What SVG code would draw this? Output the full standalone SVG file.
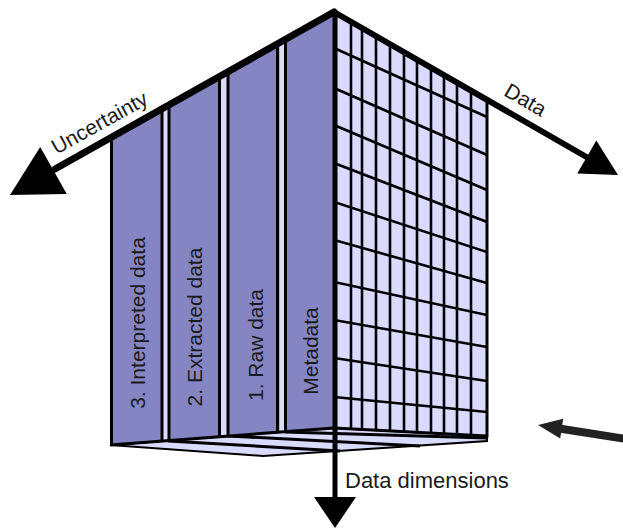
<svg xmlns="http://www.w3.org/2000/svg" width="623" height="529" viewBox="0 0 623 529">
<style>
.dark{fill:#8585c4;}
.light{fill:#dadaff;}
.edge{stroke:#000;fill:none;stroke-width:3;}
.grid{stroke:#000;fill:none;stroke-width:2.6;}
.axis{stroke:#000;fill:none;stroke-linecap:round;}
.lbl{font-family:"Liberation Sans",Arial,sans-serif;font-size:21px;fill:#1a1a1a;}
</style>
<defs>
<clipPath id="leftClip"><polygon points="110,136.5 334,12 334,428 110,445"/></clipPath>
<clipPath id="rightClip"><polygon points="334,12 487,97 487,436 334,428"/></clipPath>
</defs>

<g id="floor">
<polygon points="110,445 263,456 487,441 487,436 334,428" fill="#dadaff" stroke="#000" stroke-width="2"/>
<path d="M168,441 L340,451 M228,436 L420,446 M285,432 L487,438" class="edge" stroke-width="2.5"/>
</g>

<g id="left-face">
<polygon class="dark" points="110,136.5 334,12 334,428 110,445"/>
<g clip-path="url(#leftClip)">
<rect class="light" x="163" y="90" width="5.5" height="360"/>
<rect class="light" x="221" y="60" width="6" height="380"/>
<rect class="light" x="279.5" y="30" width="5" height="410"/>
<path class="edge" d="M111.5,130 V450 M162,100 V450 M169,100 V450 M219.5,70 V450 M228,60 V450 M277.5,40 V450 M285.5,30 V450"/>
</g>
<path class="edge" stroke-width="2.5" d="M110,445 L334,428"/>
</g>

<g id="slab-interpreted"><text class="lbl" x="145" y="323" text-anchor="middle" transform="rotate(-90 145 323)">3. Interpreted data</text></g>
<g id="slab-extracted"><text class="lbl" x="202" y="327" text-anchor="middle" transform="rotate(-90 202 327)">2. Extracted data</text></g>
<g id="slab-raw"><text class="lbl" x="263" y="345" text-anchor="middle" transform="rotate(-90 263 345)">1. Raw data</text></g>
<g id="slab-metadata"><text class="lbl" x="318" y="351" text-anchor="middle" transform="rotate(-90 318 351)">Metadata</text></g>

<g id="right-face">
<polygon class="light" points="334,12 487,97 487,436 334,428"/>
<g clip-path="url(#rightClip)">
<path class="grid" d="M334,48 L487,117 M334,88 L487,155 M334,125 L487,190 M334,163 L487,222 M334,202 L487,252 M334,240 L487,283 M334,282 L487,315 M334,320 L487,347 M334,358 L487,381 M334,397 L487,412"/>
<path class="grid" stroke-width="3" d="M351,0 V440 M362,0 V440 M376,0 V440 M390,0 V440 M404,0 V440 M417,0 V440 M431,0 V440 M444,0 V440 M457,0 V440 M471,0 V440"/>
</g>
<path class="edge" stroke-width="2.5" d="M487,97 V436 L334,428"/>
</g>

<g id="connectors">
<g id="axis-uncertainty">
<line class="axis" x1="334" y1="12" x2="55" y2="169" stroke-width="7"/>
<polygon points="10,195 66.8,193.9 40.2,146.9" fill="#000"/>
</g>
<g id="axis-data">
<line class="axis" x1="334" y1="12" x2="590" y2="159" stroke-width="6"/>
<polygon points="618,175 577.3,173.6 596.3,140.6" fill="#000"/>
</g>
<g id="axis-dimensions">
<line class="axis" x1="335" y1="12" x2="335" y2="500" stroke-width="5"/>
<polygon points="314,497 356,497 335,528" fill="#000"/>
</g>
<g id="pointer-arrow">
<line x1="626" y1="439" x2="556" y2="428" stroke="#222" stroke-width="8"/>
<polygon points="538,425 563.2,418.7 560.2,438.5" fill="#222"/>
</g>
</g>

<g id="axis-labels">
<text class="lbl" x="103" y="129" text-anchor="middle" transform="rotate(-29 103 129)">Uncertainty</text>
<text class="lbl" x="522" y="106" text-anchor="middle" transform="rotate(30 522 106)">Data</text>
<text class="lbl" x="345" y="488" style="font-size:22px">Data dimensions</text>
</g>
</svg>
